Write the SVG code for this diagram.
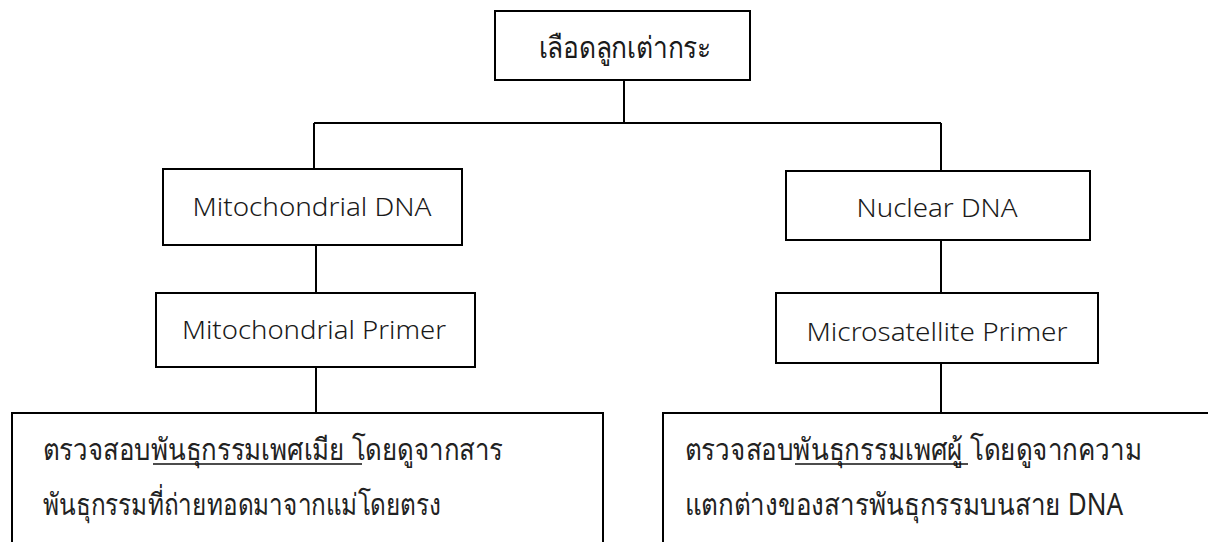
<svg xmlns="http://www.w3.org/2000/svg" width="1208" height="542" viewBox="0 0 1208 542">
<style>
.box{fill:#fff;stroke:#000;stroke-width:2}
.ln{fill:none;stroke:#000;stroke-width:2}
.ul{stroke:#111;stroke-width:1.6}
.t{font-family:"Noto Sans","DejaVu Sans",sans-serif;font-size:26px;font-weight:300;fill:#1a1a1a;text-anchor:middle}
.tt{font-family:"Noto Sans","DejaVu Sans",sans-serif;font-size:30px;fill:#1a1a1a;text-anchor:middle}
.th{font-family:"Noto Sans","DejaVu Sans",sans-serif;font-size:30px;fill:#222}
</style>
<rect width="1208" height="542" fill="#fff"/>
<g id="connectors">
<path class="ln" d="M624 80V123M314 123H941M314 123V170M941 123V171M316 245V293M941 240V293M316 367V413M941 363V413"/>
</g>
<g id="n-root">
<rect class="box" x="495" y="11" width="255" height="69"/>
<text class="tt" x="625" y="58" textLength="173" lengthAdjust="spacingAndGlyphs">เลือดลูกเต่ากระ</text>
</g>
<g id="n-mtdna">
<rect class="box" x="163" y="169" width="299" height="76"/>
<text class="t" x="312" y="216" textLength="239" lengthAdjust="spacingAndGlyphs">Mitochondrial DNA</text>
</g>
<g id="n-ndna">
<rect class="box" x="786" y="171" width="304" height="69"/>
<text class="t" x="937" y="217" textLength="161" lengthAdjust="spacingAndGlyphs">Nuclear DNA</text>
</g>
<g id="n-mtprimer">
<rect class="box" x="156" y="293" width="319" height="74"/>
<text class="t" x="314" y="339" textLength="264" lengthAdjust="spacingAndGlyphs">Mitochondrial Primer</text>
</g>
<g id="n-msprimer">
<rect class="box" x="776" y="293" width="322" height="70"/>
<text class="t" x="937" y="341" textLength="261" lengthAdjust="spacingAndGlyphs">Microsatellite Primer</text>
</g>
<g id="n-female">
<rect class="box" x="12" y="413" width="591" height="140"/>
<text class="th" x="43" y="460" textLength="460" lengthAdjust="spacingAndGlyphs">ตรวจสอบพันธุกรรมเพศเมีย โดยดูจากสาร</text>
<line class="ul" x1="153" y1="464" x2="362" y2="464"/>
<text class="th" x="43" y="515" textLength="398" lengthAdjust="spacingAndGlyphs">พันธุกรรมที่ถ่ายทอดมาจากแม่โดยตรง</text>
</g>
<g id="n-male">
<rect class="box" x="663" y="413" width="560" height="140"/>
<text class="th" x="685" y="460" textLength="457" lengthAdjust="spacingAndGlyphs">ตรวจสอบพันธุกรรมเพศผู้ โดยดูจากความ</text>
<line class="ul" x1="795" y1="464" x2="968" y2="464"/>
<text class="th" x="685" y="515" textLength="438" lengthAdjust="spacingAndGlyphs">แตกต่างของสารพันธุกรรมบนสาย DNA</text>
</g>
</svg>
